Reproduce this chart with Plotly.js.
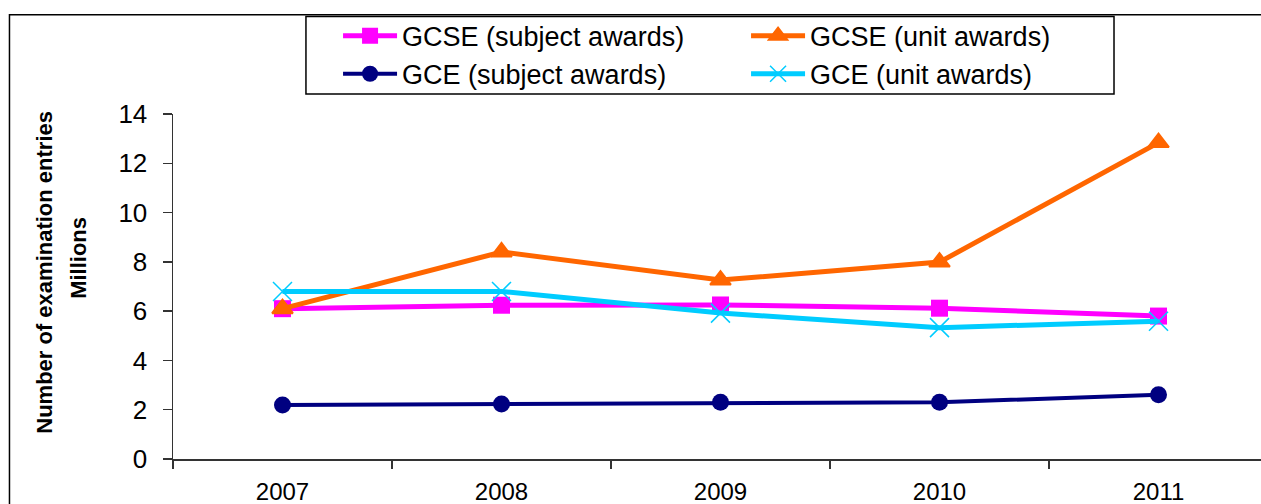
<!DOCTYPE html>
<html>
<head>
<meta charset="utf-8">
<script src="https://cdn.plot.ly/plotly-3.0.1.min.js"></script>
<style>
  html, body { margin: 0; padding: 0; overflow: hidden; background: #fff; }
  #chart { width: 1261px; height: 504px; }
</style>
</head>
<body>
<div id="chart"></div>
<script>
const years = ['2007', '2008', '2009', '2010', '2011'];
const gcseSubject = [6.10, 6.24, 6.25, 6.12, 5.80];
const gcseUnit = [6.10, 8.40, 7.26, 7.99, 12.84];
const gceSubject = [2.19, 2.23, 2.30, 2.30, 2.61];
const gceUnit = [6.80, 6.80, 5.92, 5.33, 5.59];
const seriesNames = ['GCSE (subject awards)', 'GCSE (unit awards)', 'GCE (subject awards)', 'GCE (unit awards)'];
const yTitleLines = ['Number of examination entries', 'Millions'];

const FONT = 'Liberation Sans, Arial, sans-serif';

const traces = [
  {
    x: years, y: gcseSubject, name: seriesNames[0], type: 'scatter', mode: 'lines+markers',
    line: {color: '#FF00FF', width: 5},
    marker: {symbol: 'square', size: 17, color: '#FF00FF'}
  },
  {
    x: years, y: gcseUnit, name: seriesNames[1], type: 'scatter', mode: 'lines+markers',
    line: {color: '#FF6600', width: 5},
    marker: {symbol: 'triangle-up', size: 18, color: '#FF6600', line: {color: '#FF6600', width: 2}}
  },
  {
    x: years, y: gceSubject, name: seriesNames[2], type: 'scatter', mode: 'lines+markers',
    line: {color: '#000080', width: 4},
    marker: {symbol: 'circle', size: 17, color: '#000080'}
  },
  {
    x: years, y: gceUnit, name: seriesNames[3], type: 'scatter', mode: 'lines+markers',
    line: {color: '#00CCFF', width: 5},
    marker: {symbol: 'x-thin-open', size: 19, color: '#00CCFF', line: {color: '#00CCFF', width: 1.5}}
  }
];

const layout = {
  width: 1261, height: 504,
  margin: {l: 173, r: 0, t: 114, b: 45},
  paper_bgcolor: '#fff', plot_bgcolor: '#fff',
  font: {family: FONT, color: '#000'},
  showlegend: true,
  legend: {
    orientation: 'h', x: 0.1517, y: 1.2968, xanchor: 'left', yanchor: 'top',
    entrywidth: 339, entrywidthmode: 'pixels', itemwidth: 54,
    borderwidth: 0, bgcolor: 'rgba(0,0,0,0)',
    font: {family: FONT, size: 27, color: '#000'},
    traceorder: 'normal'
  },
  xaxis: {
    type: 'category', range: [-0.5, 4.468], tickson: 'boundaries',
    ticks: 'outside', ticklen: 8, tickwidth: 1.5, tickcolor: '#333',
    showline: true, linecolor: '#333', linewidth: 1.5,
    showgrid: false, zeroline: false, fixedrange: true,
    ticklabelstandoff: 11,
    tickfont: {family: FONT, size: 24, color: '#000'}
  },
  yaxis: {
    range: [0, 14], dtick: 2, tick0: 0,
    ticks: 'outside', ticklen: 9, tickwidth: 1.5, tickcolor: '#333',
    showline: true, linecolor: '#333', linewidth: 1.5,
    showgrid: false, zeroline: false, fixedrange: true,
    ticklabelstandoff: 10,
    tickfont: {family: FONT, size: 26, color: '#000'}
  },
  annotations: [
    {xref: 'paper', yref: 'paper', x: -0.1182, y: 0.541, xanchor: 'center', yanchor: 'middle',
     text: '<b>' + yTitleLines[0] + '</b>', textangle: -90, showarrow: false,
     font: {family: FONT, size: 22, color: '#000'}},
    {xref: 'paper', yref: 'paper', x: -0.0864, y: 0.583, xanchor: 'center', yanchor: 'middle',
     text: '<b>' + yTitleLines[1] + '</b>', textangle: -90, showarrow: false,
     font: {family: FONT, size: 22, color: '#000'}}
  ],
  shapes: [
    {type: 'rect', xref: 'paper', yref: 'paper', x0: -0.1503, x1: 1.3, y0: -0.4, y1: 1.288,
     line: {color: '#000', width: 1.5}, fillcolor: 'rgba(0,0,0,0)', layer: 'below'},
    {type: 'rect', xref: 'paper', yref: 'paper', x0: 0.1222, x1: 0.8649, y0: 1.0580, y1: 1.2823,
     line: {color: '#000', width: 1.5}, fillcolor: '#fff', layer: 'below'}
  ]
};

Plotly.newPlot('chart', traces, layout, {displayModeBar: false, staticPlot: true});
</script>
</body>
</html>
